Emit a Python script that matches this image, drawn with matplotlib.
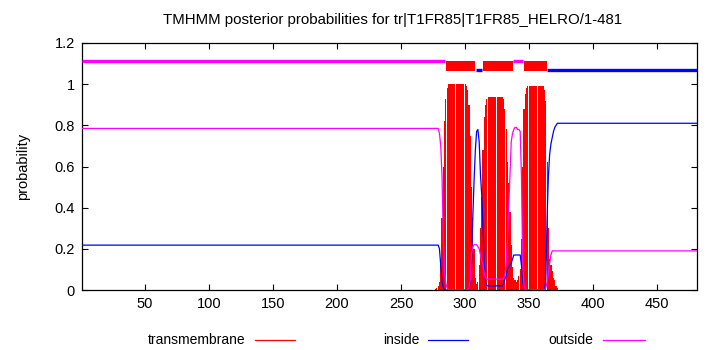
import matplotlib
matplotlib.use("Agg")
import matplotlib.pyplot as plt
from matplotlib.lines import Line2D
import numpy as np

plt.rcParams['font.family'] = ['Liberation Sans', 'DejaVu Sans']

title = "TMHMM posterior probabilities for tr|T1FR85|T1FR85_HELRO/1-481"
seq_len = 481

# posterior probability of "inside" (blue) at residue positions
inside_res = [1, 279, 280, 281, 282, 283, 284, 303, 304, 305, 306, 307, 308, 309, 310, 311, 312,
              313, 314, 315, 316, 317, 329, 330, 331, 332, 333, 334, 335, 336, 337, 338, 339,
              343, 344, 345, 346, 347, 362, 363, 364, 365, 366, 367, 368, 369, 370, 371, 372, 481]
inside_val = [0.218, 0.218, 0.20, 0.12, 0.04, 0.01, 0.0, 0.0, 0.04, 0.13, 0.35, 0.53, 0.68, 0.77,
              0.78, 0.72, 0.56, 0.46, 0.30, 0.12, 0.04, 0.02, 0.02, 0.03, 0.05, 0.07, 0.10, 0.11,
              0.12, 0.13, 0.15, 0.17, 0.17, 0.17, 0.12, 0.04, 0.01, 0.0, 0.0, 0.05, 0.35, 0.55,
              0.66, 0.71, 0.74, 0.77, 0.79, 0.80, 0.81, 0.81]

# posterior probability of "outside" (magenta)
outside_res = [1, 279, 280, 281, 282, 283, 284, 285, 286, 287, 302, 303, 304, 305, 306, 307, 309,
               310, 311, 312, 313, 314, 315, 316, 317, 330, 331, 332, 333, 334, 335, 336, 337,
               338, 339, 340, 341, 342, 343, 344, 345, 346, 347, 362, 363, 364, 365, 366, 367,
               368, 481]
outside_val = [0.785, 0.785, 0.76, 0.70, 0.55, 0.25, 0.08, 0.03, 0.01, 0.0, 0.0, 0.01, 0.05, 0.18,
               0.21, 0.22, 0.22, 0.21, 0.20, 0.17, 0.14, 0.12, 0.08, 0.06, 0.053, 0.053, 0.07,
               0.12, 0.24, 0.40, 0.55, 0.72, 0.76, 0.78, 0.79, 0.79, 0.78, 0.78, 0.77, 0.55,
               0.12, 0.02, 0.0, 0.0, 0.01, 0.04, 0.08, 0.13, 0.17, 0.19, 0.19]

# transmembrane posterior (red impulses), residues 276..372
tm_start = 276
tm_val = [0.0, 0.005, 0.01, 0.02, 0.04, 0.15, 0.35, 0.60, 0.82, 0.93, 0.98,
          1.0, 1.0, 1.0, 1.0, 1.0, 1.0, 1.0, 1.0, 1.0, 1.0, 1.0, 1.0, 1.0, 1.0,
          0.99, 0.97, 0.90, 0.75, 0.50, 0.35, 0.20, 0.06, 0.03, 0.04, 0.12, 0.30,
          0.45, 0.68, 0.84, 0.90, 0.93,
          0.94, 0.94, 0.94, 0.94, 0.94, 0.94, 0.94, 0.94, 0.94, 0.94, 0.94, 0.94,
          0.93, 0.88, 0.78, 0.62, 0.52, 0.38, 0.22, 0.11, 0.06, 0.05, 0.04, 0.05,
          0.07, 0.10, 0.25, 0.60, 0.88, 0.95, 0.98,
          0.99, 0.99, 0.99, 0.99, 0.99, 0.99, 0.99, 0.99, 0.99, 0.99, 0.99, 0.99, 0.99,
          0.97, 0.92, 0.62, 0.30, 0.15, 0.12, 0.09, 0.06, 0.05, 0.02, 0.01]

# predicted topology segments (state, start, end)
seg_state = ["outside", "TM", "inside", "TM", "outside", "TM", "inside"]
seg_start = [1, 285, 308.5, 314, 337.5, 346, 364.2]
seg_end = [284.5, 308, 313.5, 337, 345.5, 364.2, 481]

x_ticks = [50, 100, 150, 200, 250, 300, 350, 400, 450]
y_ticks = [0, 0.2, 0.4, 0.6, 0.8, 1.0, 1.2]
y_tick_labels = ["0", "0.2", "0.4", "0.6", "0.8", "1", "1.2"]

RED, BLUE, MAG = "#ff0000", "#0000ff", "#ff00ff"

fig = plt.figure(figsize=(7.1, 3.5), dpi=100)
ax = fig.add_axes([82 / 710, 1 - 290 / 350, 615 / 710, 247 / 350])

tm_res = np.arange(tm_start, tm_start + len(tm_val))
ax.bar(tm_res, tm_val, width=0.9, color=RED, linewidth=0, zorder=2)
ax.plot(inside_res, inside_val, color=BLUE, lw=0.9, zorder=3)
ax.plot(outside_res, outside_val, color=MAG, lw=0.9, zorder=3)

for st, s, e in zip(seg_state, seg_start, seg_end):
    if st == "TM":
        ax.fill_between([s, e], 1.064, 1.113, color=RED, linewidth=0, zorder=4)
    elif st == "inside":
        ax.plot([s, e], [1.067, 1.067], color=BLUE, lw=2.4, solid_capstyle="butt", zorder=4)
    else:
        ax.plot([s, e], [1.111, 1.111], color=MAG, lw=2.4, solid_capstyle="butt", zorder=4)

ax.set_xlim(1, seq_len)
ax.set_ylim(0, 1.2)
ax.set_xticks(x_ticks)
ax.set_xticklabels([str(t) for t in x_ticks])
ax.set_yticks(y_ticks)
ax.set_yticklabels(y_tick_labels)
ax.tick_params(direction="in", length=4, width=0.8, top=True, right=True,
               labelsize=10.5, pad=5, colors="black")
for sp in ax.spines.values():
    sp.set_linewidth(0.9)
ax.set_ylabel("probability", fontsize=10.5)
ax.yaxis.set_label_coords(-52 / 615, 0.5)

fig.text(393 / 710, 1 - 20 / 350, title, ha="center", va="center", fontsize=10.8)

# legend in gnuplot style along the bottom
leg = [("transmembrane", RED, 245, 255, 295),
       ("inside", BLUE, 420, 428, 468),
       ("outside", MAG, 593, 603, 645)]
for lab, col, tx, l0, l1 in leg:
    fig.text(tx / 710, 1 - 340 / 350, lab, ha="right", va="center", fontsize=10)
    fig.add_artist(Line2D([l0 / 710, l1 / 710], [1 - 340 / 350, 1 - 340 / 350],
                          color=col, lw=0.9, transform=fig.transFigure))

fig.savefig("out.png", dpi=100)
